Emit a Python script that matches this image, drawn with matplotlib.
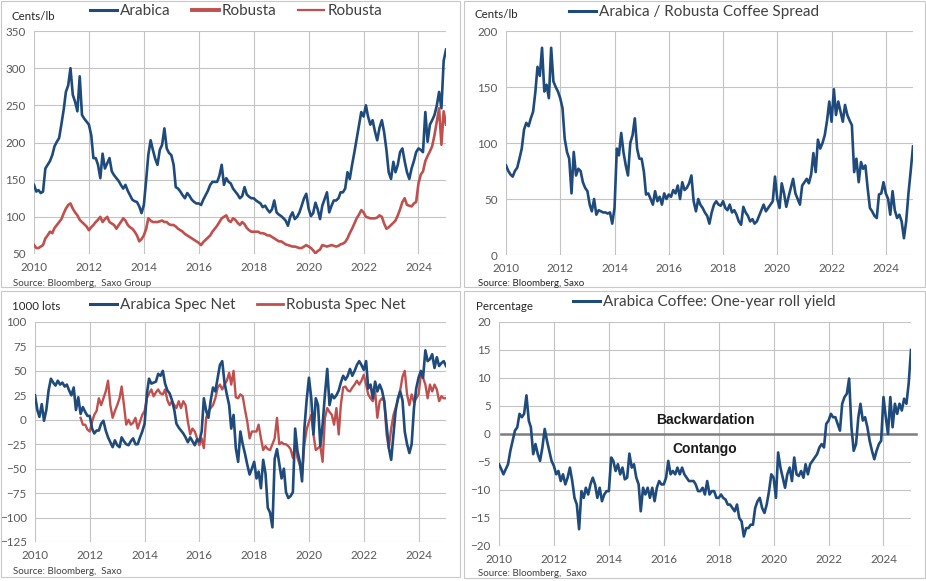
import pandas as pd
import numpy as np
import matplotlib
matplotlib.use("Agg")
import matplotlib.pyplot as plt
import matplotlib.dates as mdates
from matplotlib.lines import Line2D
from matplotlib.patches import Rectangle

# ----------------- 1. Data (monthly) -----------------
dates = pd.date_range("2010-01-01", "2025-01-01", freq="MS")

arabica = [
    143, 134, 136, 132, 134, 165, 170, 175, 183, 195, 201, 206,   # 2010
    225, 245, 268, 277, 300, 264, 255, 242, 289, 237, 232, 228,   # 2011
    224, 210, 179, 179, 170, 152, 185, 165, 172, 179, 161, 156,   # 2012
    152, 148, 143, 138, 143, 135, 129, 123, 121, 120, 114, 105,   # 2013
    116, 150, 183, 203, 190, 178, 170, 190, 197, 219, 192, 186,   # 2014
    183, 170, 140, 138, 134, 129, 125, 132, 128, 123, 120, 118,   # 2015
    118, 116, 123, 129, 135, 143, 147, 147, 147, 155, 170, 143,   # 2016
    152, 147, 145, 138, 134, 130, 125, 128, 140, 130, 127, 125,   # 2017
    125, 122, 120, 118, 113, 115, 110, 106, 110, 122, 106, 103,   # 2018
    101, 98, 95, 88, 100, 106, 97, 100, 106, 115, 125, 131,       # 2019
    111, 101, 105, 119, 110, 97, 115, 124, 133, 106, 115, 122,    # 2020
    122, 125, 133, 133, 138, 160, 151, 170, 187, 205, 224, 241,   # 2021
    235, 250, 235, 224, 230, 215, 203, 220, 230, 214, 190, 160,   # 2022
    151, 174, 160, 170, 187, 192, 175, 160, 151, 165, 175, 187,   # 2023
    192, 190, 187, 241, 201, 224, 230, 237, 250, 268, 246, 310,   # 2024
    325,
]
robusta = [
    62, 58, 58, 60, 62, 71, 75, 80, 78, 85, 89, 93,
    97, 105, 111, 116, 118, 111, 106, 102, 96, 93, 90, 87,
    82, 86, 89, 93, 96, 100, 93, 97, 100, 93, 91, 89,
    84, 89, 93, 98, 95, 89, 86, 84, 80, 75, 67, 70,
    75, 84, 98, 95, 93, 93, 93, 94, 95, 93, 93, 90,
    89, 89, 87, 84, 82, 80, 77, 75, 73, 71, 69, 67,
    65, 62, 66, 69, 72, 75, 80, 84, 88, 93, 98, 100,
    102, 95, 93, 98, 96, 92, 89, 93, 90, 85, 82, 80,
    80, 80, 80, 78, 78, 77, 75, 75, 73, 71, 69, 67,
    67, 65, 63, 62, 61, 60, 60, 59, 58, 58, 60, 62,
    60, 58, 55, 51, 54, 56, 62, 61, 60, 61, 62, 61,
    60, 61, 63, 64, 66, 71, 78, 84, 91, 98, 103, 109,
    106, 100, 99, 98, 98, 98, 99, 102, 100, 91, 84, 86,
    89, 92, 95, 102, 110, 120, 125, 116, 115, 114, 118, 120,
    145, 157, 161, 175, 182, 188, 195, 210, 228, 246, 197, 242,
    224,
]
spread = [
    80, 75, 72, 70, 75, 78, 86, 95, 112, 118, 115, 122,
    128, 146, 168, 160, 185, 146, 152, 140, 185, 155, 150, 146,
    140, 131, 104, 92, 86, 55, 92, 71, 77, 75, 65, 60,
    57, 45, 39, 50, 36, 40, 39, 38, 38, 37, 38, 28,
    42, 95, 89, 109, 92, 80, 71, 100, 107, 122, 95, 86,
    86, 74, 54, 55, 50, 45, 57, 48, 52, 45, 55, 50,
    54, 52, 58, 55, 62, 50, 65, 58, 60, 64, 71, 48,
    39, 50, 45, 42, 38, 35, 28, 38, 45, 48, 45, 44,
    48, 42, 40, 45, 38, 40, 36, 30, 27, 43, 38, 35,
    30, 32, 28, 30, 35, 40, 45, 39, 42, 45, 48, 70,
    50, 42, 64, 55, 43, 52, 60, 68, 55, 50, 45, 62,
    65, 68, 64, 72, 91, 74, 103, 95, 100, 107, 120, 137,
    119, 148, 125, 137, 128, 119, 134, 125, 120, 116, 74, 86,
    65, 83, 77, 80, 60, 42, 39, 35, 33, 54, 55, 65,
    55, 50, 36, 57, 40, 33, 36, 30, 15, 30, 55, 75,
    97,
]
arabica_spec = [
    25, 10, 3, 16, -1, 10, 30, 42, 38, 35, 40, 36,
    38, 34, 36, 30, 25, 33, 10, 23, 6, 13, 8, 4,
    4, -9, -14, -11, -11, -4, -1, -11, -18, -23, -28, -21,
    -26, -28, -18, -22, -25, -26, -22, -19, -25, -25, -18, -12,
    -4, 27, 42, 37, 38, 39, 47, 45, 50, 37, 30, 27,
    20, 10, -4, -8, -11, -14, -18, -23, -18, -22, -26, -20,
    -22, -12, 22, 9, 2, 20, 33, 29, 43, 56, 60, 38,
    26, 15, -9, 5, -29, -43, -12, -25, -35, -46, -56, -50,
    -43, -60, -53, -70, -41, -55, -90, -95, -110, -40, -30, -45,
    -60, -50, -74, -80, -78, -74, -9, -32, -43, -63, -9, 20,
    43, 22, -15, 22, 15, -27, -5, 26, 52, 15, 26, 22,
    25, 30, 38, 45, 41, 45, 52, 45, 50, 56, 60, 56,
    51, 60, 32, 36, 22, 39, 29, 36, 30, 19, -5, -29,
    -41, -15, 9, 22, 29, 20, -12, -25, -34, -25, 12, 32,
    43, 50, 43, 71, 60, 62, 67, 53, 64, 55, 58, 60,
    55,
]
# Robusta positioning starts in September 2011
robusta_spec_start = "2011-09-01"
robusta_spec = [
    2, -5, -5, -10,
    -12, -2, 5, 9, 22, 15, 22, 29, 40, 15, 2, 9,
    15, 22, 34, 15, -5, 0, -5, -3, 2, -9, -2, 5,
    9, 22, 27, 31, 24, 28, 31, 27, 26, 31, 20, 15,
    19, 15, 12, 19, 12, 19, 15, -2, -15, -9, -12, -19,
    -26, -19, -29, 2, 9, 12, 15, 22, 33, 36, 31, 36,
    40, 48, 36, 50, 23, 22, 26, 24, 10, -2, -19, -12,
    -12, -12, -5, -19, -31, -27, -30, -31, -25, -19, 2, -25,
    -23, -25, -25, -27, -30, -39, -25, -39, -46, -56, -25, -10,
    -2, 5, -15, -31, -29, -27, -43, 2, 12, 8, 5, -5,
    12, -15, 15, 33, 34, 30, 29, 33, 36, 40, 36, 40,
    46, 36, 26, 22, 19, 29, 2, 19, 22, 19, -15, -29,
    -9, 5, 12, 20, 30, 44, 50, 26, 15, 26, 18, 22,
    26, 46, 43, 36, 22, 36, 29, 36, 31, 19, 24, 22,
    22,
]
roll_yield = [
    -5.4, -6.3, -7.2, -6.3, -5.4, -3, -1.2, 0.6, 1.2, 3.6, 3.0, 3.6,
    6.9, 2.4, 1.2, -3.6, -1.8, -3.6, -4.8, -2.4, 0.9, -1.2, -3, -4.8,
    -5.7, -7.2, -6.6, -8.4, -7.2, -9, -7.8, -6, -8.4, -11.4, -12.6, -17,
    -10.2, -11.4, -9.6, -10.8, -9, -7.8, -9, -11.4, -9.6, -12, -10.8, -10.2,
    -10.2, -4.2, -4.8, -6.6, -5.4, -7.2, -6, -8.1, -7.8, -3.5, -6, -5.4,
    -7.8, -9, -13.8, -9.6, -10.8, -9.6, -11.4, -9.6, -12, -9.6, -8.4, -9,
    -9, -7.8, -4.8, -7.2, -6.6, -7.2, -6, -7.2, -6, -7.2, -7.8, -8.4,
    -8.4, -8.4, -9, -10.2, -10.2, -9.6, -10.8, -8.4, -10.8, -10.2, -10.2, -11.4,
    -11.4, -10.8, -11.4, -11.7, -12.6, -12.6, -13.2, -13.8, -12.6, -15, -15.6, -18.3,
    -16.8, -16.8, -16.2, -16.2, -13.2, -12, -11.4, -13.2, -14.1, -12.6, -10.2, -7.2,
    -7.8, -11.4, -3.3, -6, -7.8, -9.6, -7.2, -6, -8.4, -4.2, -7.2, -7.5,
    -6.6, -7.8, -5.4, -7.2, -5.4, -4.8, -4.2, -3.6, -2.4, -1.8, -2.4, 1.8,
    2.4, 3.6, 3, 3, 1.8, 0.6, 5.4, 6.6, 7.2, 9.9, 1.2, -3,
    -1.8, 3, 5.4, 2.4, 3, 1.2, -1.2, -3, -4.5, -3, -1.8, -1.2,
    6.6, 3, 0, 6.6, 1.2, 5.4, 3.6, 5.4, 4.2, 6.3, 5.4, 9.0,
    15,
]

# ----------------- 2. Style -----------------
BLUE = "#1f4a7c"
RED = "#c0504d"
GRID = "#c4c4c4"
W, H = 926, 581

plt.rcParams["font.family"] = ["Lato", "DejaVu Sans"]

fig = plt.figure(figsize=(W / 100, H / 100), dpi=100)


def px_axes(left, top, right, bottom):
    # axes from pixel box (top-left origin)
    return fig.add_axes([left / W, 1 - bottom / H, (right - left) / W, (bottom - top) / H])


def style_axes(ax, ylim, yticks):
    ax.set_xlim(dates[0], dates[-1])
    ax.set_ylim(ylim)
    ax.set_yticks(yticks)
    ax.xaxis.set_major_locator(mdates.YearLocator(2))
    ax.xaxis.set_major_formatter(mdates.DateFormatter("%Y"))
    ax.grid(True, color=GRID, lw=0.8)
    ax.set_axisbelow(True)
    for s in ax.spines.values():
        s.set_visible(False)
    ax.tick_params(axis="both", length=0, labelsize=8.4, colors="#595959")
    ax.tick_params(axis="y", pad=6)
    ax.tick_params(axis="x", pad=5.5)


def frame(x0, y0, x1, y1):
    fig.add_artist(Rectangle((x0 / W, 1 - y1 / H), (x1 - x0) / W, (y1 - y0) / H,
                             transform=fig.transFigure, fill=False, ec="#c8c8c8", lw=0.8))


def top_legend(handles, labels, x, y):
    fig.legend(handles, labels, loc="center left", bbox_to_anchor=(x / W, 1 - y / H),
               ncol=len(handles), frameon=False, fontsize=11, labelcolor="#404040",
               handlelength=1.75, handletextpad=0.2, columnspacing=1.4,
               borderpad=0, borderaxespad=0)


def fig_text(x, y, s, **kw):
    fig.text(x / W, 1 - y / H, s, va="center", ha="left", **kw)


# ----------------- 3. Panel 1: prices -----------------
frame(1, 1, 460, 287)
ax1 = px_axes(34, 31, 446, 254)
ax1.plot(dates, arabica, color=BLUE, lw=1.9)
ax1.plot(dates, robusta, color=RED, lw=1.9)
style_axes(ax1, (50, 350), range(50, 351, 50))
top_legend([Line2D([], [], color=BLUE, lw=2.2), Line2D([], [], color=RED, lw=2.8),
            Line2D([], [], color=RED, lw=1.6)],
           ["Arabica", "Robusta", "Robusta"], 90, 11)
fig_text(12, 16, "Cents/lb", fontsize=8.3, color="#262626")
fig_text(13, 283, "Source: Bloomberg,  Saxo Group", fontsize=7, color="#404040")

# ----------------- 4. Panel 2: spread -----------------
frame(464, 1, 925, 287)
ax2 = px_axes(506, 31, 913, 255)
ax2.plot(dates, spread, color=BLUE, lw=1.9)
style_axes(ax2, (0, 200), range(0, 201, 50))
top_legend([Line2D([], [], color=BLUE, lw=2.2)],
           ["Arabica / Robusta Coffee Spread"], 569, 12)
fig_text(475, 14, "Cents/lb", fontsize=8.3, color="#262626")
fig_text(478, 283, "Source: Bloomberg, Saxo", fontsize=7, color="#262626")

# ----------------- 5. Panel 3: speculative positioning -----------------
frame(1, 291, 460, 577)
ax3 = px_axes(35, 322, 446, 542)
ax3.plot(dates, arabica_spec, color=BLUE, lw=1.9, zorder=3)
ax3.plot(dates[dates >= robusta_spec_start], robusta_spec, color=RED, lw=1.7, zorder=2)
style_axes(ax3, (-125, 100), range(-125, 101, 25))
top_legend([Line2D([], [], color=BLUE, lw=2.2), Line2D([], [], color=RED, lw=2.0)],
           ["Arabica Spec Net", "Robusta Spec Net"], 90, 305)
fig_text(12, 307, "1000 lots", fontsize=8.3, color="#262626")
fig_text(13, 572, "Source: Bloomberg,  Saxo", fontsize=7, color="#404040")

# ----------------- 6. Panel 4: roll yield -----------------
frame(464, 291, 925, 578)
ax4 = px_axes(499, 322, 911, 546)
ax4.axhline(0, xmin=0.005, xmax=1.012, color="#7f7f7f", lw=1.8, clip_on=False, zorder=2)
ax4.plot(dates, roll_yield, color=BLUE, lw=1.9, zorder=3)
style_axes(ax4, (-20, 20), range(-20, 21, 5))
ax4.text(pd.Timestamp("2017-07-01"), 2.5, "Backwardation", ha="center", va="center",
         fontsize=10, fontweight="bold", color="#1a1a1a", family="Liberation Sans")
ax4.text(pd.Timestamp("2017-07-01"), -2.7, "Contango", ha="center", va="center",
         fontsize=10, fontweight="bold", color="#1a1a1a", family="Liberation Sans")
top_legend([Line2D([], [], color=BLUE, lw=2.2)],
           ["Arabica Coffee: One-year roll yield"], 573, 302)
fig_text(476, 307, "Percentage", fontsize=8.3, color="#262626")
fig_text(478, 574, "Source: Bloomberg,  Saxo", fontsize=7, color="#404040")

fig.savefig("out.png", dpi=100)
print("saved out.png")
